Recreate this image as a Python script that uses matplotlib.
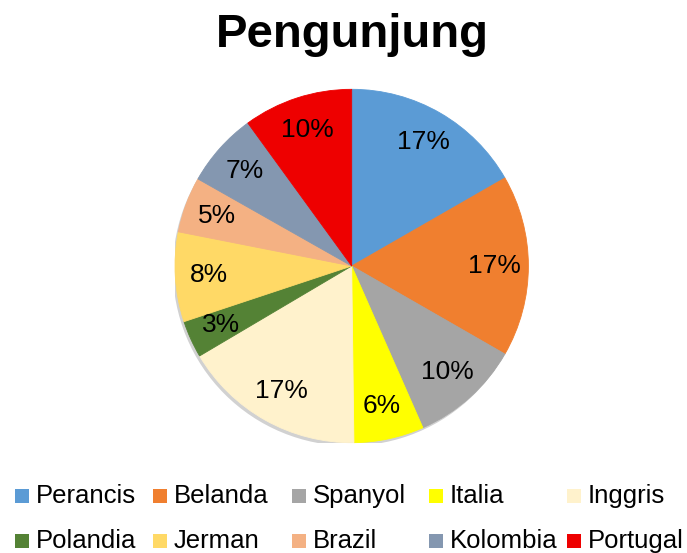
import matplotlib
matplotlib.use('Agg')
import matplotlib.pyplot as plt
from matplotlib.patches import Rectangle, Circle

plt.rcParams['font.family'] = ['Liberation Sans', 'DejaVu Sans']

negara = ['Perancis', 'Belanda', 'Spanyol', 'Italia', 'Inggris',
          'Polandia', 'Jerman', 'Brazil', 'Kolombia', 'Portugal']
persen = [16.7, 16.6, 10.1, 6.4, 16.7, 3.4, 8.2, 5.1, 6.8, 10.0]
warna = ['#5B9BD5', '#F07F2F', '#A5A5A5', '#FFFF00', '#FFF2CC',
         '#548235', '#FFD966', '#F4B183', '#8497B0', '#EE0000']

W, H = 687, 553
fig = plt.figure(figsize=(W / 100, H / 100), dpi=100)
ax = fig.add_axes([175 / W, 110.3 / H, 353.4 / W, 353.4 / H])

# soft shadow behind the pie
ax.add_patch(Circle((-0.012, -0.018), 1.0, facecolor='#000000', alpha=0.18,
                    edgecolor='none', zorder=0))

wedges, texts, autotexts = ax.pie(
    persen, colors=warna, startangle=90, counterclock=False,
    autopct='%1.0f%%', pctdistance=0.81,
    textprops={'fontsize': 19, 'color': 'black'})
for w in wedges:
    w.set_edgecolor(w.get_facecolor())
    w.set_linewidth(0.6)
ax.set_xlim(-1, 1)
ax.set_ylim(-1, 1)
ax.set_aspect('equal')

fig.text(352 / W, 1 - 47.3 / H, 'Pengunjung', ha='center', va='baseline',
         fontsize=34, fontweight='bold')

# legend, 5 columns x 2 rows
kotak_x = [15, 153, 292, 429, 567]
kotak_y = [489, 534]
for i, (nama, c) in enumerate(zip(negara, warna)):
    x = kotak_x[i % 5]
    y = kotak_y[i // 5]
    fig.patches.append(Rectangle((x / W, 1 - (y + 14) / H), 14 / W, 14 / H,
                                 transform=fig.transFigure, facecolor=c,
                                 edgecolor='none'))
    fig.text((x + 21) / W, 1 - (y + 14) / H, nama, ha='left', va='baseline',
             fontsize=18.5)

fig.savefig('out.png', dpi=100)
